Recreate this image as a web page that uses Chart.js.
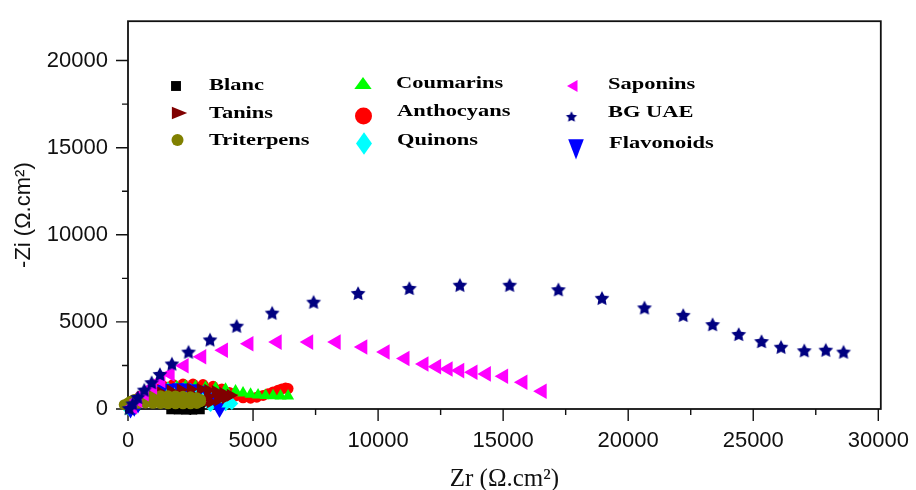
<!DOCTYPE html>
<html>
<head>
<meta charset="utf-8">
<script src="https://cdn.jsdelivr.net/npm/chart.js@4.4.0/dist/chart.umd.min.js"></script>
<style>
  html, body { margin: 0; padding: 0; background: #fff; }
</style>
</head>
<body>
<canvas id="myChart" width="916" height="490"></canvas>
<script>
// Nyquist plots, Zr / -Zi in ohm.cm2

const blancX = [50, 150, 300, 500, 750, 1000, 1300, 1600, 1900, 2150, 2400, 2650, 2900, 2600, 2300, 2000, 1700];
const blancY = [30, 150, 280, 400, 500, 560, 580, 540, 430, 300, 150, 20, -60, -80, -80, -70, -60];

const taninsX = [200, 400, 700, 1000, 1300, 1700, 2100, 2500, 2900, 3200, 3500, 3800, 4100, 3900, 3600, 3300, 3000, 2700, 2400, 2100, 2200, 2700, 3200, 3600];
const taninsY = [150, 350, 600, 800, 950, 1050, 1100, 1130, 1130, 1080, 1000, 900, 790, 650, 520, 400, 300, 230, 200, 200, 700, 700, 720, 760];

const triterpensX = [-150, 0, 100, 250, 450, 700, 1000, 1300, 1600, 1900, 2200, 2500, 2750, 2900, 2900, 2750, 2500, 2200, 1900, 1600, 1300, 1000, 700, 400];
const triterpensY = [250, 350, 450, 550, 650, 720, 750, 760, 760, 750, 730, 700, 650, 550, 420, 320, 300, 300, 300, 300, 320, 330, 350, 330];

const coumarinsX = [100, 250, 450, 700, 950, 1250, 1600, 1950, 2300, 2700, 3100, 3500, 3900, 4300, 4600, 4900, 5200, 5500, 5800, 6100, 6400];
const coumarinsY = [-100, 100, 350, 600, 850, 1050, 1200, 1280, 1300, 1290, 1250, 1200, 1130, 1030, 920, 850, 800, 780, 760, 750, 740];

const anthocyansX = [50, 150, 300, 500, 750, 1050, 1400, 1800, 2200, 2600, 3000, 3400, 3750, 4050, 4300, 4600, 4900, 5150, 5400, 5600, 5800, 6000, 6150, 6300, 6400];
const anthocyansY = [50, 250, 500, 750, 1000, 1200, 1330, 1400, 1430, 1430, 1400, 1300, 1150, 950, 750, 640, 620, 680, 780, 880, 980, 1080, 1150, 1200, 1170];

const quinonsX = [50, 150, 300, 500, 750, 1000, 1300, 1600, 1900, 2200, 2500, 2800, 3100, 3400, 3700, 3950, 4150, 3900, 3600, 3300];
const quinonsY = [-50, 150, 400, 650, 850, 1000, 1100, 1150, 1170, 1160, 1120, 1050, 950, 820, 650, 480, 320, 250, 220, 200];

const saponinsX = [185, 385, 650, 985, 1315, 1685, 2245, 2950, 3815, 4835, 5965, 7225, 8325, 9390, 10280, 11075, 11835, 12340, 12800, 13265, 13795, 14330, 15020, 15790, 16560];
const saponinsY = [130, 510, 885, 1260, 1640, 2015, 2485, 2995, 3375, 3745, 3840, 3840, 3840, 3560, 3275, 2900, 2580, 2430, 2300, 2205, 2105, 2015, 1880, 1540, 1015];

const bgUaeX = [50, 190, 390, 650, 945, 1275, 1755, 2420, 3280, 4345, 5765, 7420, 9200, 11250, 13270, 15260, 17210, 18950, 20650, 22200, 23375, 24420, 25330, 26110, 27040, 27900, 28610];
const bgUaeY = [55, 320, 695, 1115, 1540, 2015, 2615, 3295, 3995, 4785, 5535, 6160, 6665, 6950, 7135, 7135, 6875, 6385, 5835, 5405, 4875, 4310, 3900, 3575, 3375, 3405, 3295];

const flavonoidsX = [100, 250, 400, 600, 850, 1100, 1400, 1700, 2000, 2300, 2600, 2900, 3150, 3350, 3500, 3600, 3660];
const flavonoidsY = [-150, -50, 150, 450, 750, 1000, 1180, 1250, 1270, 1260, 1220, 1130, 950, 700, 400, 150, -110];

const xTicks = [0, 5000, 10000, 15000, 20000, 25000, 30000];
const yTicks = [0, 5000, 10000, 15000, 20000];

const pts = (xs, ys) => xs.map((x, i) => ({x: x, y: ys[i]}));

function makeStar(R, color) {
  const c = document.createElement('canvas');
  const s = Math.ceil(R * 2 + 2);
  c.width = s; c.height = s;
  const g = c.getContext('2d');
  g.fillStyle = color;
  g.beginPath();
  for (let i = 0; i < 10; i++) {
    const rr = i % 2 ? R * 0.5 : R;
    const a = -Math.PI / 2 + i * Math.PI / 5;
    const px = s / 2 + rr * Math.cos(a), py = s / 2 + 1 + rr * Math.sin(a);
    if (i) g.lineTo(px, py); else g.moveTo(px, py);
  }
  g.closePath();
  g.fill();
  return c;
}
const bigStar = makeStar(7.8, '#000080');
const smallStar = makeStar(5.8, '#000080');

function series(label, xs, ys, color, style, r, rot, order) {
  return {
    label: label,
    data: pts(xs, ys),
    pointStyle: style,
    pointRadius: r,
    pointRotation: rot,
    pointBackgroundColor: color,
    pointBorderColor: color,
    pointBorderWidth: 0,
    backgroundColor: color,
    borderColor: color,
    showLine: false,
    clip: false,
    order: order
  };
}

const data = {
  datasets: [
    series('Blanc', blancX, blancY, '#000000', 'rect', 6, 0, 3),
    series('Tanins', taninsX, taninsY, '#800000', 'triangle', 7.5, 90, 4),
    series('Triterpens', triterpensX, triterpensY, '#808000', 'circle', 5.5, 0, 2),
    series('Coumarins', coumarinsX, coumarinsY, '#00ff00', 'triangle', 7, 0, 7),
    series('Anthocyans', anthocyansX, anthocyansY, '#ff0000', 'circle', 5.5, 0, 8),
    series('Quinons', quinonsX, quinonsY, '#00ffff', 'rectRot', 6.5, 0, 6),
    series('Saponins', saponinsX, saponinsY, '#ff00ff', 'triangle', 9, -90, 1),
    series('BG UAE', bgUaeX, bgUaeY, '#000080', bigStar, 7.8, 0, 0),
    series('Flavonoids', flavonoidsX, flavonoidsY, '#0000ff', 'triangle', 7, 180, 5)
  ]
};

// legend drawn in the plot, three columns like the figure
const legendItems = [
  {ds: 0, mx: 176, my: 86, r: 7, tx: 209, ty: 86},
  {ds: 1, mx: 177, my: 113, r: 7.3, sx: 1.4, tx: 209, ty: 114},
  {ds: 2, mx: 177.5, my: 140, r: 6, tx: 209, ty: 141},
  {ds: 3, mx: 363, my: 85, r: 8, sx: 1.25, tx: 396, ty: 84},
  {ds: 4, mx: 363.5, my: 116, r: 8.5, tx: 397, ty: 112},
  {ds: 5, mx: 364, my: 143.5, r: 8, sy: 1.4, tx: 397, ty: 141},
  {ds: 6, mx: 574, my: 86, r: 7, tx: 608, ty: 85},
  {ds: 7, mx: 571.5, my: 116, r: 5.8, style: smallStar, tx: 608, ty: 113},
  {ds: 8, mx: 576, my: 146, r: 9, sy: 1.5, tx: 609, ty: 144}
];

const legendBox = {
  id: 'legendBox',
  afterDraw(chart) {
    const ctx = chart.ctx;
    legendItems.forEach(it => {
      const ds = chart.data.datasets[it.ds];
      ctx.save();
      ctx.fillStyle = ds.pointBackgroundColor;
      ctx.translate(it.mx, it.my);
      ctx.scale(it.sx || 1, it.sy || 1);
      Chart.helpers.drawPoint(ctx, {
        pointStyle: it.style || ds.pointStyle,
        rotation: ds.pointRotation || 0,
        radius: it.r,
        borderWidth: 0
      }, 0, 0);
      ctx.restore();
      ctx.save();
      ctx.font = 'bold 17px "Liberation Serif", "Times New Roman", serif';
      ctx.fillStyle = '#000';
      ctx.textBaseline = 'middle';
      ctx.translate(it.tx, it.ty);
      ctx.scale(1.32, 1);
      ctx.fillText(ds.label, 0, 0);
      ctx.restore();
    });
  }
};

// box round the plot + outward ticks (major 5000, minor 2500)
const frame = {
  id: 'frame',
  beforeDatasetsDraw(chart) {
    const {ctx, chartArea: a, scales: {x, y}} = chart;
    ctx.save();
    ctx.strokeStyle = '#111';
    ctx.lineWidth = 1.8;
    ctx.strokeRect(a.left, a.top, a.right - a.left, a.bottom - a.top);
    ctx.lineWidth = 1.4;
    ctx.beginPath();
    for (let v = 0; v <= x.max; v += 2500) {
      const px = x.getPixelForValue(v);
      const len = xTicks.includes(v) ? 12 : 6;
      ctx.moveTo(px, a.bottom);
      ctx.lineTo(px, a.bottom + len);
    }
    for (let v = 0; v <= y.max; v += 2500) {
      const py = y.getPixelForValue(v);
      const len = yTicks.includes(v) ? 12 : 6;
      ctx.moveTo(a.left, py);
      ctx.lineTo(a.left - len, py);
    }
    ctx.stroke();
    ctx.restore();
  }
};

const sansFont = '"Liberation Sans", Arial, sans-serif';

const config = {
  type: 'scatter',
  data: data,
  options: {
    responsive: false,
    animation: false,
    events: [],
    layout: {padding: {top: 15, right: 34, left: 0, bottom: 0}},
    plugins: {
      legend: {display: false},
      tooltip: {enabled: false}
    },
    scales: {
      x: {
        type: 'linear',
        min: 0,
        max: 30100,
        afterBuildTicks: s => { s.ticks = xTicks.map(v => ({value: v})); },
        afterFit: s => { s.height = 81; },
        grid: {drawOnChartArea: false, color: 'transparent', tickLength: 12},
        border: {display: false},
        ticks: {
          autoSkip: false,
          maxRotation: 0,
          padding: 7,
          color: '#111',
          font: {family: sansFont, size: 22},
          callback: v => String(v)
        },
        title: {
          display: true,
          text: 'Zr (Ω.cm²)',
          color: '#111',
          font: {family: '"Liberation Serif", "Times New Roman", serif', size: 25},
          padding: {top: 0, bottom: -4}
        }
      },
      y: {
        type: 'linear',
        min: 0,
        max: 22260,
        afterBuildTicks: s => { s.ticks = yTicks.map(v => ({value: v})); },
        afterFit: s => { s.width = 128; },
        grid: {drawOnChartArea: false, color: 'transparent', tickLength: 12},
        border: {display: false},
        ticks: {
          autoSkip: false,
          padding: 8,
          color: '#111',
          font: {family: sansFont, size: 22},
          callback: v => String(v)
        },
        title: {
          display: true,
          text: '-Zi (Ω.cm²)',
          color: '#111',
          font: {family: sansFont, size: 22},
          padding: {top: 11, bottom: 0}
        }
      }
    }
  },
  plugins: [frame, legendBox]
};

const myChart = new Chart(document.getElementById('myChart').getContext('2d'), config);
</script>
</body>
</html>
